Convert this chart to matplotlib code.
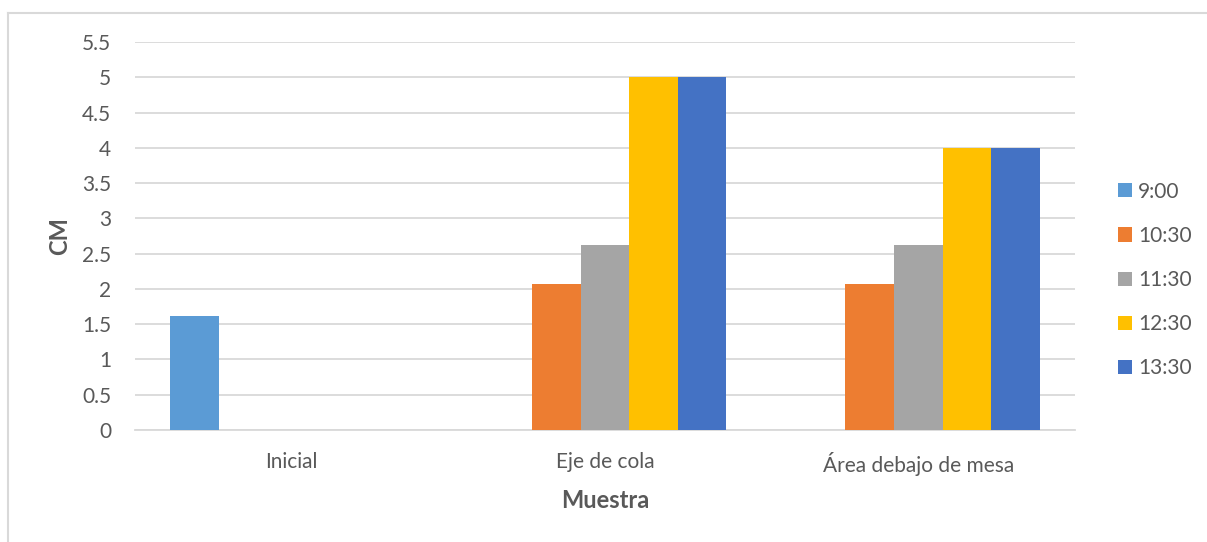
import matplotlib.pyplot as plt
import numpy as np
from matplotlib.patches import Patch
from matplotlib.lines import Line2D

plt.rcParams["font.family"] = ["Lato", "DejaVu Sans"]

# sample sites and time-of-day series (values in cm)
categories = ["Inicial", "Eje de cola", "Área debajo de mesa"]
series = ["9:00", "10:30", "11:30", "12:30", "13:30"]
v_0900 = [1.62, 0, 0]
v_1030 = [0, 2.07, 2.07]
v_1130 = [0, 2.62, 2.62]
v_1230 = [0, 5, 4]
v_1330 = [0, 5, 4]
values = [v_0900, v_1030, v_1130, v_1230, v_1330]
colors = ["#5B9BD5", "#ED7D31", "#A5A5A5", "#FFC000", "#4472C4"]

text_color = "#595959"
grid_color = "#D9D9D9"

W, H = 1207, 542
fig = plt.figure(figsize=(W / 100, H / 100), dpi=100)
ax = fig.add_axes([135 / W, 1 - 430 / H, 940 / W, 388 / H])

x = np.arange(len(categories))
bw = 0.155
for i, (name, vals, c) in enumerate(zip(series, values, colors)):
    ax.bar(x + (i - 2) * bw, vals, width=bw, color=c, label=name, zorder=3)

ax.set_xlim(-0.5, 2.5)
ax.set_ylim(0, 5.5)
ax.set_yticks(np.arange(0, 5.51, 0.5))
ax.set_yticklabels(["0", "0.5", "1", "1.5", "2", "2.5", "3", "3.5", "4", "4.5", "5", "5.5"])
ax.set_xticks(x)
ax.set_xticklabels(categories)
ax.tick_params(axis="both", length=0, labelsize=15, colors=text_color)
ax.tick_params(axis="y", pad=17)
ax.tick_params(axis="x", pad=16)

ax.grid(axis="y", color=grid_color, linewidth=1.3, zorder=0)
for s in ["top", "right", "left"]:
    ax.spines[s].set_visible(False)
ax.spines["bottom"].set_color(grid_color)
ax.spines["bottom"].set_linewidth(1.3)

ax.set_xlabel("Muestra", fontsize=17, fontweight="bold", color=text_color, labelpad=9)
ax.set_ylabel("CM", fontsize=17, fontweight="bold", color=text_color, labelpad=8)

# legend on the right
handles = [Patch(facecolor=c, edgecolor="none") for c in colors]
fig.legend(handles, series, loc="center left", bbox_to_anchor=(1099 / W, 1 - 280 / H),
           frameon=False, fontsize=15, labelcolor=text_color,
           handlelength=0.67, handleheight=0.67, handletextpad=0.3, labelspacing=1.16)

# outer chart border (left and top edges)
fig.add_artist(Line2D([7.5 / W, 7.5 / W], [0, 1 - 12.5 / H], color=grid_color, lw=1.5,
                      transform=fig.transFigure))
fig.add_artist(Line2D([7.5 / W, 1], [1 - 12.5 / H, 1 - 12.5 / H], color=grid_color, lw=1.5,
                      transform=fig.transFigure))

fig.savefig("out.png", dpi=100)
